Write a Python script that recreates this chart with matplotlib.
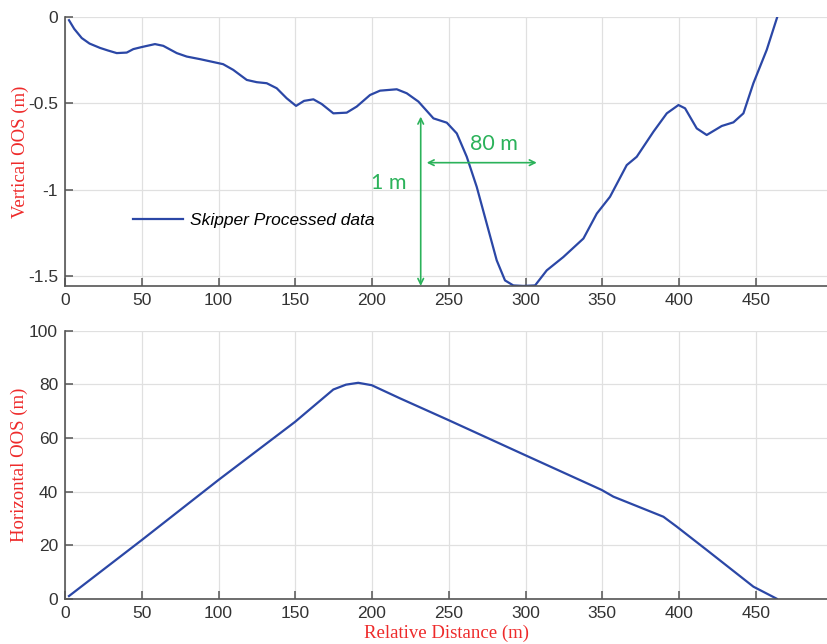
import matplotlib.pyplot as plt

# top panel: vertical out-of-straightness
dist_v = [2.6, 6, 10.9, 16, 22.8, 28, 33.7, 40.2, 44.5, 50, 58.6, 64, 72.8, 79.3, 88,
          103, 109.6, 118.4, 124.9, 131.4, 137.9, 144.4, 150.5, 155.7, 161.8, 167.2,
          174.8, 183.5, 190, 198.7, 205.2, 216.1, 222.6, 230.2, 240, 248.7, 255.2,
          261.7, 268.2, 274.7, 281.2, 286.6, 292, 298.6, 306.2, 313.8, 324.6, 337.7,
          346.4, 355, 365.9, 372.4, 383.3, 392, 399.6, 403.9, 411.5, 418, 427.8,
          435.4, 441.9, 448.4, 457.1, 464]
vert_oos = [-0.02, -0.07, -0.123, -0.155, -0.18, -0.195, -0.21, -0.207, -0.187, -0.175,
            -0.158, -0.168, -0.21, -0.23, -0.245, -0.274, -0.307, -0.365, -0.378,
            -0.384, -0.413, -0.471, -0.515, -0.486, -0.477, -0.504, -0.558, -0.554,
            -0.519, -0.452, -0.427, -0.419, -0.442, -0.49, -0.587, -0.612, -0.674,
            -0.809, -0.983, -1.195, -1.407, -1.523, -1.552, -1.555, -1.552, -1.465,
            -1.388, -1.281, -1.137, -1.04, -0.857, -0.809, -0.664, -0.558, -0.51,
            -0.529, -0.645, -0.683, -0.631, -0.61, -0.558, -0.384, -0.191, 0.0]

# bottom panel: horizontal out-of-straightness
dist_h = [2.6, 50, 99.9, 149.8, 174.8, 183, 191, 199.8, 218.2, 249.7, 299.7, 349.6,
          357.2, 389.8, 398.5, 418, 448.4, 463.6]
horiz_oos = [1, 21.9, 44.3, 66, 78.1, 79.9, 80.6, 79.7, 74.8, 66.7, 53.6, 40.6, 38.1,
             30.6, 26.9, 18.2, 4.5, 0]

xticks = [0, 50, 100, 150, 200, 250, 300, 350, 400, 450]
line_col = '#2b47a6'
green = '#2bb25a'
red = '#ee2a2a'

fig = plt.figure(figsize=(8.28, 6.44), dpi=100)
ax1 = fig.add_axes([0.0785, 0.556, 0.9215, 0.418])
ax2 = fig.add_axes([0.0785, 0.0703, 0.9215, 0.416])

for ax in (ax1, ax2):
    ax.set_xlim(0, 497)
    ax.set_xticks(xticks)
    ax.grid(True, color='#e0e0e0', lw=0.9)
    ax.set_axisbelow(True)
    for s in ('top', 'right'):
        ax.spines[s].set_visible(False)
    for s in ('left', 'bottom'):
        ax.spines[s].set_color('#555555')
        ax.spines[s].set_linewidth(1.2)
    ax.tick_params(direction='in', length=6, width=1.1, color='#555555',
                   labelcolor='#333333', labelsize=12.5, pad=5)

ax1.plot(dist_v, vert_oos, color=line_col, lw=1.6, label='Skipper Processed data')
ax1.set_ylim(-1.555, 0)
ax1.set_yticks([-1.5, -1, -0.5, 0])
ax1.set_yticklabels(['-1.5', '-1', '-0.5', '0'])
ax1.set_ylabel('Vertical OOS (m)', color=red, fontsize=13.5, family='Liberation Serif',
               labelpad=-1)
ax1.legend(loc='upper left', bbox_to_anchor=(0.068, 0.33), frameon=False,
           handlelength=2.9, handletextpad=0.4,
           prop={'family': 'Liberation Sans', 'style': 'italic', 'size': 12.5})

# green dimension arrows
ax1.annotate('', xy=(231.7, -0.577), xytext=(231.7, -1.555),
             arrowprops=dict(arrowstyle='<->', color=green, lw=1.2,
                             shrinkA=0, shrinkB=0, mutation_scale=10), annotation_clip=False)
ax1.annotate('', xy=(235.6, -0.843), xytext=(307.3, -0.843),
             arrowprops=dict(arrowstyle='<->', color=green, lw=1.2,
                             shrinkA=0, shrinkB=0, mutation_scale=10))
ax1.text(211, -0.963, '1 m', color=green, fontsize=15.5, family='Lato',
         ha='center', va='center')
ax1.text(279.5, -0.735, '80 m', color=green, fontsize=15.5, family='Lato',
         ha='center', va='center')

ax2.plot(dist_h, horiz_oos, color=line_col, lw=1.6)
ax2.set_ylim(0, 100)
ax2.set_yticks([0, 20, 40, 60, 80, 100])
ax2.set_ylabel('Horizontal OOS (m)', color=red, fontsize=13.5, family='Liberation Serif',
               labelpad=1)
ax2.set_xlabel('Relative Distance (m)', color=red, fontsize=13.5, family='Liberation Serif',
               labelpad=3)

for ax in (ax1, ax2):
    for lab in ax.get_xticklabels() + ax.get_yticklabels():
        lab.set_family('Liberation Sans')

fig.savefig('out.png', dpi=100)
